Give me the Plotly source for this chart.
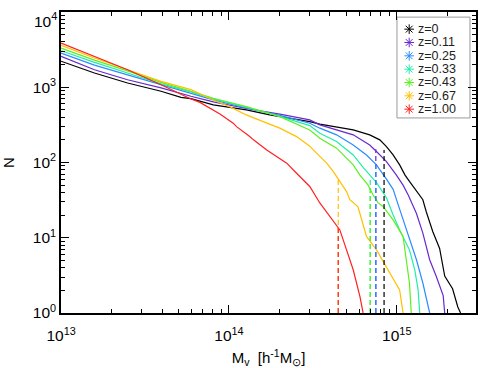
import plotly.graph_objects as go

# cumulative counts N(>M), one list pair per redshift
z_labels = ["z=0", "z=0.11", "z=0.25", "z=0.33", "z=0.43", "z=0.67", "z=1.00"]
colors = ["#000000", "#6a28d0", "#2a8cff", "#20eea8", "#5cf020", "#ffc000", "#ff2020"]

m_z000 = [1.0e13, 1.58e13, 2.49e13, 3.94e13, 5.18e13, 5.94e13, 8.07e13, 1.27e14, 1.75e14, 2.01e14,
          3.03e14, 3.48e14, 5.5e14, 6.9e14, 7.92e14, 8.68e14, 9.51e14, 1.04e15, 1.12e15, 1.19e15,
          1.25e15, 1.31e15, 1.43e15, 1.5e15, 1.64e15, 1.8e15, 1.93e15, 2.15e15, 2.31e15, 2.4e15]
n_z000 = [2220, 1550, 1140, 885, 735, 706, 582, 500, 429, 407,
          349, 323, 271, 233, 200, 163, 126, 93, 68, 56,
          48, 43, 32, 22, 12, 7.2, 3.1, 2.1, 1.2, 1.0]

m_z011 = [1.0e13, 1.58e13, 2.49e13, 3.94e13, 5.94e13, 8.07e13, 1.27e14, 2.01e14, 3.03e14, 3.48e14,
          5.5e14, 6.9e14, 7.57e14, 8.68e14, 9.95e14, 1.09e15, 1.17e15, 1.31e15, 1.43e15, 1.57e15,
          1.72e15, 1.89e15, 1.93e15]
n_z011 = [2580, 1710, 1260, 980, 760, 640, 522, 440, 368, 316,
          233, 171, 140, 103, 68, 50, 37, 21, 11.5, 5.1,
          3.05, 1.7, 1.0]

m_z025 = [1.0e13, 1.58e13, 2.49e13, 3.94e13, 5.94e13, 8.07e13, 1.27e14, 2.01e14, 3.03e14, 3.48e14,
          4.38e14, 5.5e14, 6.6e14, 7.57e14, 8.68e14, 9.51e14, 1.04e15, 1.19e15, 1.31e15, 1.43e15, 1.57e15]
n_z025 = [2850, 1970, 1460, 1080, 840, 680, 530, 423, 333, 286,
          233, 171, 126, 93, 60, 44, 24, 9.4, 5.1, 2.5, 1.0]

m_z033 = [1.0e13, 1.58e13, 2.49e13, 3.94e13, 5.94e13, 8.07e13, 1.27e14, 2.01e14, 3.03e14, 3.48e14,
          4.38e14, 5.5e14, 6.3e14, 7.57e14, 8.68e14, 9.51e14, 1.04e15, 1.19e15, 1.28e15, 1.34e15, 1.37e15]
n_z033 = [3060, 2140, 1550, 1110, 870, 700, 543, 410, 309, 245,
          190, 126, 86, 54, 34, 20, 12.7, 6.9, 3.75, 2.03, 1.0]

m_z043 = [1.0e13, 1.58e13, 2.49e13, 3.94e13, 5.94e13, 8.07e13, 1.27e14, 1.6e14, 2.01e14, 3.03e14,
          3.48e14, 4.38e14, 5.5e14, 6.03e14, 6.75e14, 7.23e14, 7.74e14, 8.28e14, 9.51e14, 1.09e15,
          1.14e15, 1.19e15, 1.22e15]
n_z043 = [3320, 2300, 1650, 1160, 885, 714, 553, 475, 407, 271,
          210, 155, 93, 68, 50, 37, 29, 26, 17.3, 10.4,
          5.1, 2.5, 1.0]

m_z067 = [1.0e13, 1.58e13, 2.49e13, 3.94e13, 5.94e13, 8.07e13, 1.01e14, 1.27e14, 1.6e14, 2.01e14,
          2.53e14, 3.03e14, 3.18e14, 3.48e14, 3.82e14, 4.18e14, 4.58e14, 5.02e14, 5.25e14, 5.86e14,
          6.03e14, 6.6e14, 7.57e14, 8.68e14, 1.04e15, 1.09e15]
n_z067 = [3610, 2450, 1710, 1200, 929, 678, 553, 429, 349, 286,
          221, 165, 147, 120, 98, 76, 56, 41, 32, 26,
          21, 10.4, 6.9, 4.15, 2.03, 1.0]

m_z100 = [1.0e13, 1.58e13, 2.49e13, 3.94e13, 4.52e13, 5.18e13, 5.94e13, 6.72e13, 8.84e13, 1.06e14,
          1.11e14, 1.33e14, 1.4e14, 1.68e14, 2.21e14, 2.53e14, 3.03e14, 3.48e14, 3.99e14, 4.58e14,
          5.02e14, 5.5e14, 6.03e14, 6.3e14]
n_z100 = [3870, 2580, 1710, 1080, 930, 800, 700, 630, 440, 333,
          300, 221, 200, 147, 98, 72, 48, 29, 19.1, 12.7,
          6.9, 3.75, 1.66, 1.0]

masses = [m_z000, m_z011, m_z025, m_z033, m_z043, m_z067, m_z100]
counts = [n_z000, n_z011, n_z025, n_z033, n_z043, n_z067, n_z100]

# vertical dashed markers: which redshift, mass, and N at the top of the dash
dash_idx = [5, 6, 3, 4, 1, 2, 0]
dash_mass = [4.48e14, 4.48e14, 6.95e14, 6.95e14, 7.5e14, 7.5e14, 8.4e14]
dash_top = [59, 14.8, 62, 48, 150, 98, 147]

# tick positions / labels (top y label is placed separately, a bit lower, like the original)
x_major = [1e13, 1e14, 1e15]
x_major_text = ["10<sup>13</sup>", "10<sup>14</sup>", "10<sup>15</sup>"]
y_major = [1, 10, 100, 1000, 10000]
y_major_text = ["10<sup>0</sup>", "10<sup>1</sup>", "10<sup>2</sup>", "10<sup>3</sup>", ""]
y_top_text = "10<sup>4</sup>"
x_minor = [k * 10 ** e for e in (13, 14, 15) for k in range(2, 10)]
y_minor = [k * 10 ** e for e in (0, 1, 2, 3) for k in range(2, 10)]

fig = go.Figure()

for m, n, c in zip(masses, counts, colors):
    fig.add_trace(go.Scatter(x=m, y=n, mode="lines", line=dict(color=c, width=1.2),
                             showlegend=False, hoverinfo="skip"))

for i, xm, top in zip(dash_idx, dash_mass, dash_top):
    fig.add_trace(go.Scatter(x=[xm, xm], y=[1.0, top], mode="lines",
                             line=dict(color=colors[i], width=1.2, dash="5px,3px"),
                             showlegend=False, hoverinfo="skip"))

# hand-made legend (plotly's own legend rows are too tall), on a hidden 0..1 overlay axis
leg_x0, leg_x1, leg_top, leg_bot = 0.8096, 0.9855, 0.983, 0.648
row_h = 0.0443
row_y = [0.943 - k * row_h for k in range(len(z_labels))]
fig.add_trace(go.Scatter(x=[0.839] * len(z_labels), y=row_y, xaxis="x2", yaxis="y2",
                         mode="markers", showlegend=False, hoverinfo="skip",
                         marker=dict(symbol="asterisk-open", size=8, color=colors,
                                     line=dict(color=colors, width=1))))
for lab, yy in zip(z_labels, row_y):
    fig.add_annotation(text=lab, x=0.857, y=yy, xref="paper", yref="paper",
                       xanchor="left", yanchor="middle", showarrow=False, borderpad=0,
                       font=dict(size=12.5, color="#222222"))
fig.add_shape(type="rect", xref="paper", yref="paper", x0=leg_x0, x1=leg_x1, y0=leg_bot, y1=leg_top,
              line=dict(color="#9a9a9a", width=1), fillcolor="white", layer="below")

fig.add_annotation(text=y_top_text, x=0, y=1, xref="paper", yref="paper",
                   xanchor="right", yanchor="top", xshift=-3, yshift=3, showarrow=False,
                   borderpad=0, font=dict(size=15.5, color="black"))

axis_common = dict(
    type="log", showgrid=False, zeroline=False, automargin=False,
    ticks="inside", ticklen=8, tickwidth=1, tickcolor="black",
    showline=True, linecolor="black", linewidth=1.5, mirror="allticks",
    tickfont=dict(size=15.5, color="black"), ticklabeloverflow="allow",
)

fig.update_xaxes(range=[12.9995, 15.472], tickmode="array", tickvals=x_major, ticktext=x_major_text,
                 ticklabelstandoff=8,
                 minor=dict(ticks="inside", ticklen=4, tickwidth=1, tickcolor="black",
                            tickmode="array", tickvals=x_minor, showgrid=False),
                 title=dict(text="M<sub>v</sub>  [h<sup>-1</sup>M<sub>⊙</sub>]", font=dict(size=15), standoff=10),
                 **axis_common)
fig.update_yaxes(range=[-0.0005, 4.0005], tickmode="array", tickvals=y_major, ticktext=y_major_text,
                 minor=dict(ticks="inside", ticklen=4, tickwidth=1, tickcolor="black",
                            tickmode="array", tickvals=y_minor, showgrid=False),
                 title=dict(text="N", font=dict(size=15), standoff=17),
                 **axis_common)

fig.update_layout(
    width=491, height=368,
    margin=dict(l=61, r=15, t=12, b=55),
    plot_bgcolor="white", paper_bgcolor="white",
    font=dict(family="Liberation Sans, Arial, sans-serif", color="black"),
    xaxis2=dict(overlaying="x", range=[0, 1], visible=False, fixedrange=True),
    yaxis2=dict(overlaying="y", range=[0, 1], visible=False, fixedrange=True),
    showlegend=False,
)

# drop the browser's default 8px body margin so the figure sits at the window corner
fig.write_html("out.html", config={"displayModeBar": False},
               post_script="document.body.style.margin = '0px';")
